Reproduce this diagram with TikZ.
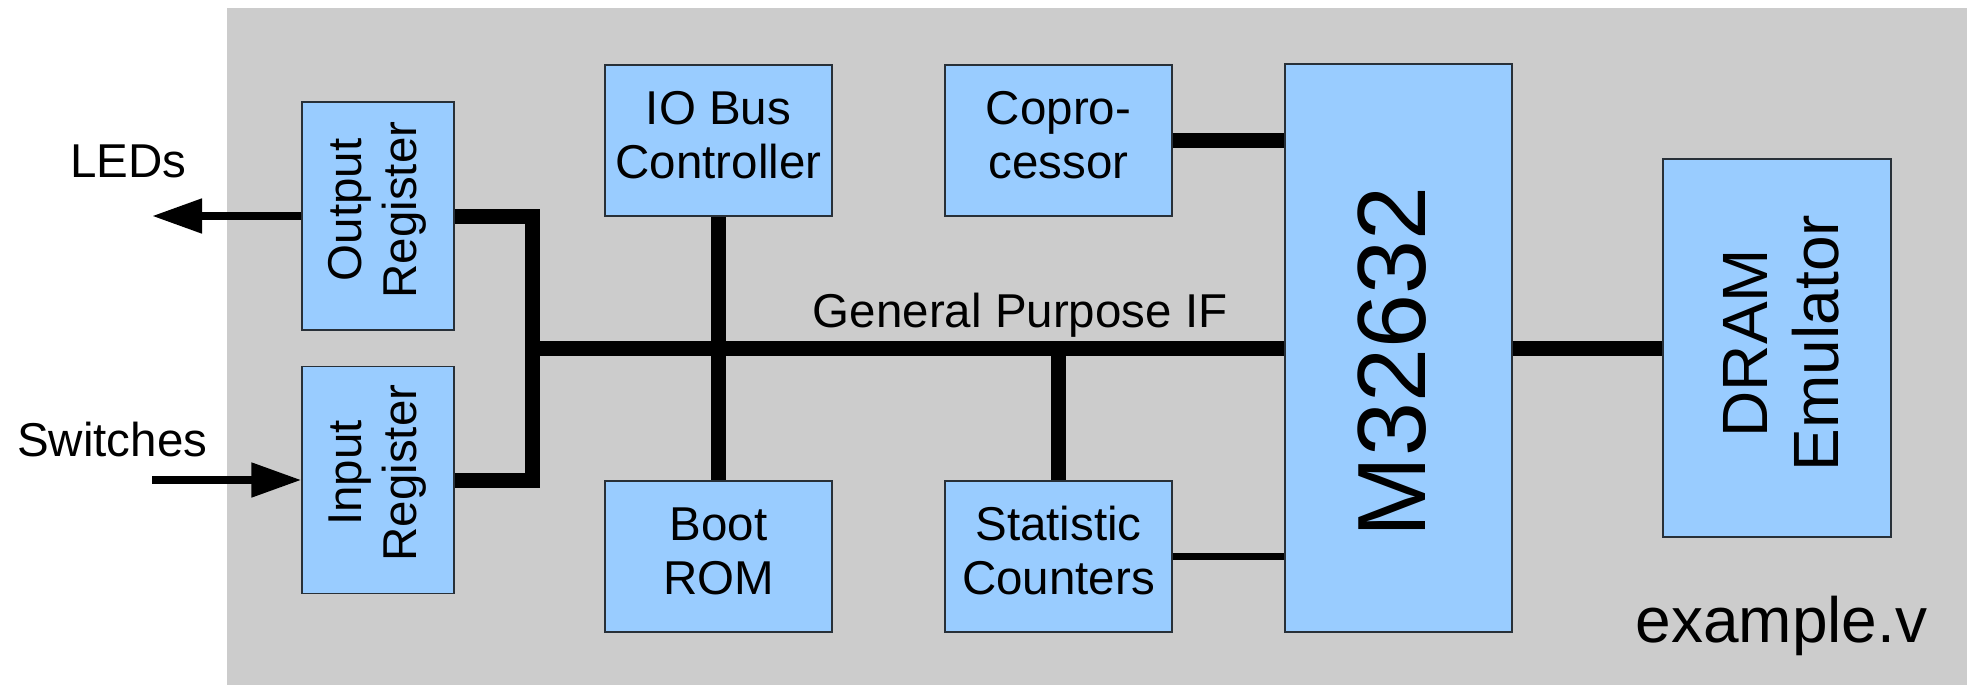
\documentclass[tikz,border=0pt]{standalone}
\usepackage{fontspec}
\setmainfont{Liberation Sans}
\usetikzlibrary{arrows.meta,calc}
\definecolor{boxblue}{RGB}{153,204,255}
\definecolor{bggray}{RGB}{204,204,204}
\definecolor{edgecol}{RGB}{40,48,56}
\newcommand\lbl[1]{\begin{tabular}{@{}c@{}}#1\end{tabular}}
\tikzset{
  blk/.style={draw=edgecol, line width=1.2pt, fill=boxblue, inner sep=0pt,
    font=\fontsize{47.5}{54.5}\selectfont},
  wire/.style={line width=15pt, draw=black},
  thinwire/.style={line width=7.5pt, draw=black},
  sig/.style={line width=8pt, draw=black, -{Triangle[length=50pt,width=33pt]}},
  txt/.style={inner sep=0pt, font=\fontsize{47.5}{54.5}\selectfont},
}
\begin{document}
\begin{tikzpicture}[x=1pt,y=-1pt]
\useasboundingbox (0,0) rectangle (1967,685);
\fill[bggray] (227,8) rectangle (1967,685);

% blocks
\node[blk, minimum width=152pt, minimum height=228pt] (outreg) at (378,216)
  {\rotatebox{90}{\hspace{12pt}\lbl{Output\\Register}}};
\node[blk, minimum width=152pt, minimum height=227pt] (inreg) at (378,480)
  {\rotatebox{90}{\hspace{14pt}\lbl{Input\\Register}}};
\node[blk, minimum width=227pt, minimum height=151pt] (iobus) at (718.5,140.5)
  {\lbl{IO Bus\\Controller}};
\node[blk, minimum width=227pt, minimum height=151pt] (bootrom) at (718.5,556.5)
  {\lbl{Boot\\ROM}};
\node[blk, minimum width=227pt, minimum height=151pt] (copro) at (1058.5,140.5)
  {\lbl{Copro-\\cessor}};
\node[blk, minimum width=227pt, minimum height=151pt] (stat) at (1058.5,556.5)
  {\lbl{Statistic\\Counters}};
\node[blk, minimum width=227pt, minimum height=568pt, font=\fontsize{97}{110}\selectfont]
  (cpu) at (1398.5,348)
  {\rotatebox{90}{M32632\hspace{28pt}\rule[-13pt]{0pt}{0pt}}};
\node[blk, minimum width=228pt, minimum height=378pt, font=\fontsize{64}{71}\selectfont]
  (dram) at (1777,348)
  {\rotatebox{90}{\hspace{10pt}\lbl{\rule{0pt}{74pt}DRAM\\Emulator}}};

% texts
\node[txt, anchor=base west] (ledstxt) at (70,177) {LEDs};
\node[txt, anchor=base west] (swtxt) at (17,456.5) {Switches};
\node[txt, anchor=base west] (gpif) at (812.7,327) {General Purpose IF};
\node[inner sep=0pt, anchor=base west, font=\fontsize{64}{71}\selectfont] (fname) at (1635.4,642) {example.v};

% junction coordinates
\coordinate (jx) at (532,348);
\coordinate (leds) at (152,216);
\coordinate (sw) at (152,480);

% wires
\draw[wire] (outreg.east) -- (outreg.east -| jx) -- (inreg.east -| jx) -- (inreg.east);
\draw[wire] (jx) -- (jx -| cpu.west);
\draw[wire] (iobus.south) -- (bootrom.north);
\draw[wire] (stat.north) -- (stat.north |- jx);
\draw[wire] (copro.east) -- (copro.east -| cpu.west);
\draw[thinwire] (stat.east) -- (stat.east -| cpu.west);
\draw[wire] (cpu.east) -- (dram.west);

% external signals
\draw[sig] (outreg.west) -- (leds);
\draw[sig] (sw) -- (inreg.west);
\end{tikzpicture}
\end{document}
